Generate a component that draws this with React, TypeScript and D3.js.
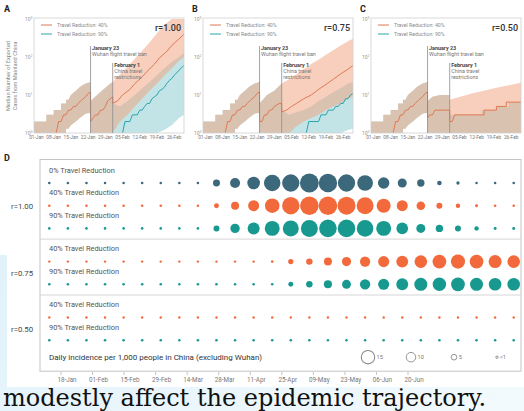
import React, { useEffect, useRef } from 'react';
import * as d3 from 'd3';

// panels A-C, x = days since 01-Jan, y = median exported cases (log)
const xTickLabels = ['01-Jan', '08-Jan', '15-Jan', '22-Jan', '29-Jan', '05-Feb', '12-Feb', '19-Feb', '26-Feb'];
const yTickPowers = [0, 1, 2, 3];
const rLabels = ['r=1.00', 'r=0.75', 'r=0.50'];

const preMedian = [[8, 1], [9, 2], [10, 2], [11, 3], [12, 3], [13, 4], [14, 4], [15, 5], [16, 5], [17, 6], [18, 7], [19, 8], [20, 9], [21, 11], [22, 12]];
// [day, low, high]
const preBand = [[-1, 1, 2], [4, 1, 2], [4, 1, 3], [7, 1, 3], [7, 1, 4], [10, 1, 4], [10, 1, 6], [12, 1, 6], [12, 1.3, 7.5], [13, 1.3, 7.5], [14, 1.6, 10], [16, 2, 13], [18, 2.6, 17], [20, 3.2, 20], [22, 3.4, 22]];

const orangeMedA = [...preMedian, [22, 2], [23, 2.5], [24, 3], [25, 3], [26, 4], [27, 4], [28, 5], [29, 7], [31, 9], [31, 6], [33, 7], [35, 10], [38, 14], [40, 20], [43, 30], [45, 42], [48, 65], [50, 95], [53, 140], [55, 200], [58, 300], [60, 400]];
const orangeBandA = [...preBand, [22, 1, 7], [26, 1, 12], [30, 1, 20], [31, 1, 22], [34, 2, 35], [37, 3, 55], [40, 5, 90], [43, 8, 145], [46, 13, 240], [49, 20, 420], [52, 32, 700], [55, 50, 1000], [58, 80, 1000], [60, 100, 1000]];
const tealMedA = [[35, 1], [36, 2], [38, 2], [39, 3], [41, 3], [42, 4], [43, 4], [44, 5], [45, 6], [46, 6], [47, 8], [48, 9], [49, 10], [50, 13], [51, 14], [52, 16], [53, 20], [54, 24], [55, 27], [56, 33], [57, 38], [58, 45], [59, 52], [60, 60]];
const tealBandA = [...preBand, [22, 1, 7], [26, 1, 12], [30, 1, 20], [31, 1, 22], [31, 1, 6], [34, 1, 5], [37, 1, 7], [40, 1, 10], [43, 1, 15], [46, 1, 22], [49, 1, 33], [52, 1.2, 50], [55, 1.6, 75], [58, 2.5, 100], [60, 3, 130]];

const orangeMedB = [...preMedian, [22, 2], [23, 2], [24, 3], [25, 3], [26, 4], [27, 4], [28, 5], [30, 6], [31, 6], [31, 3.6], [33, 4], [35, 5], [37, 6], [40, 8], [43, 10], [46, 14], [49, 19], [52, 26], [55, 36], [58, 48], [60, 60]];
const orangeBandB = [...preBand, [22, 1, 6], [25, 1, 10], [28, 1, 13], [31, 1, 20], [34, 1, 26], [37, 1.5, 35], [40, 2, 48], [43, 2.5, 65], [46, 3, 85], [49, 4, 115], [52, 5, 150], [55, 6, 200], [58, 8, 260], [60, 9, 300]];
const tealMedB = [[41, 1], [42, 2], [46, 2], [47, 3], [49, 3], [50, 4], [52, 4], [53, 5], [54, 5], [55, 6], [56, 6], [57, 8], [58, 8], [59, 10], [60, 11]];
const tealBandB = [...preBand, [22, 1, 6], [25, 1, 10], [28, 1, 13], [31, 1, 20], [31, 1, 4], [34, 1, 3], [37, 1, 3.5], [40, 1, 4], [43, 1, 5], [46, 1, 7], [49, 1, 9], [52, 1, 12], [55, 1, 15], [58, 1.2, 20], [60, 1.3, 22]];

const orangeMedC = [...preMedian, [22, 2.5], [23, 3], [24, 3], [25, 4], [31, 4], [31, 2], [32, 2], [33, 3], [45, 3], [45, 4], [50, 4], [50, 5], [54, 5], [54, 6.5], [60, 6.5]];
const orangeBandC = [...preBand, [22, 1, 7], [24, 1, 9], [27, 1, 10], [31, 1, 10], [31, 1, 7.5], [40, 1, 11], [50, 1, 15.5], [60, 1, 21]];
const tealMedC: number[][] = [];
const tealBandC = [...preBand, [22, 1, 7], [24, 1, 9], [27, 1, 10], [31, 1, 10], [31, 1, 3], [44, 1, 3], [44, 1, 4], [50, 1, 4], [50, 1, 5], [55, 1, 5], [55, 1, 6.5], [60, 1, 6.5]];

// panel D, daily incidence per 1,000 people, one value per column
const dRowLabels = ['0% Travel Reduction', '40% Travel Reduction', '90% Travel Reduction', '40% Travel Reduction', '90% Travel Reduction', '40% Travel Reduction', '90% Travel Reduction'];
const dRowSection = [0, 0, 0, 1, 1, 2, 2];
const dRowColor = ['#3c687b', '#f26a3b', '#17998f', '#f26a3b', '#17998f', '#f26a3b', '#17998f'];
const row0 = [1, 1, 1, 1, 1, 1, 1, 1, 1, 6.7, 10.6, 14, 19, 20, 22, 21.5, 20, 18, 12.5, 9.3, 7.2, 3.6, 2, 1, 1, 1];
const row40 = [1, 1, 1, 1, 1, 1, 1, 1, 1, 4.1, 8, 11.9, 16.5, 20.2, 21.7, 21.7, 20.9, 19.6, 15.8, 11.9, 8.8, 5.4, 3.4, 1.5, 1, 1];
const row90 = [1, 1, 1, 1, 1, 1, 1, 1, 1, 5.4, 9.8, 13.2, 17, 18.3, 19.6, 20.4, 20.4, 19.1, 17, 12.7, 9.3, 7.2, 5.4, 3.4, 1.5, 1.5];
const row40r75 = [0.8, 0.8, 0.8, 0.8, 0.8, 0.8, 0.8, 0.8, 0.8, 0.8, 0.8, 0.8, 1, 4.5, 6, 8, 9.5, 11, 12, 13, 14, 15.5, 16, 15.5, 14.5, 14];
const row90r75 = [1, 1, 1, 1, 1, 1, 1, 1, 1, 1, 1, 1, 1, 4, 6, 8.2, 9.2, 11, 12, 13, 14.5, 15, 15.5, 14.5, 14, 14];
const row40r50 = [0.8, 0.8, 0.8, 0.8, 0.8, 0.8, 0.8, 0.8, 0.8, 0.8, 0.8, 0.8, 0.8, 0.8, 0.8, 0.8, 0.8, 0.8, 0.8, 0.8, 0.8, 0.8, 0.8, 0.8, 0.8, 0.8];
const row90r50 = [1, 1, 1, 1, 1, 1, 1, 1, 1, 1, 1, 1, 1, 1, 1, 1, 1, 1, 1, 1, 1, 1, 1, 1, 1, 1];
const sizeLegend = [15, 10, 5, 0.8];
const sizeLegendText = ['15', '10', '5', '<1'];
const dAxisLabels = ['18-Jan', '01-Feb', '15-Feb', '29-Feb', '14-Mar', '28-Mar', '11-Apr', '25-Apr', '09-May', '23-May', '06-Jun', '20-Jun'];

const App = () => {
  const svgRef = useRef<SVGSVGElement>(null);

  useEffect(() => {
    const svg = d3.select(svgRef.current);
    svg.selectAll('*').remove();

    const W = 524;
    const H = 411;
    const font = 'Roboto, "Open Sans", sans-serif';
    const orange = '#e07955';
    const teal = '#2ba3ac';

    // page background (light blue under the figure image)
    const defs = svg.append('defs');
    const bg = defs.append('linearGradient').attr('id', 'bg').attr('x1', 0).attr('y1', 0).attr('x2', 1).attr('y2', 1);
    bg.append('stop').attr('offset', '0%').attr('stop-color', '#d9eef9');
    bg.append('stop').attr('offset', '100%').attr('stop-color', '#f3fafd');
    svg.append('rect').attr('width', W).attr('height', H).attr('fill', 'url(#bg)');
    svg.append('rect').attr('x', 0).attr('y', 0).attr('width', W).attr('height', 255).attr('fill', '#fff');
    svg.append('rect').attr('x', 7).attr('y', 0).attr('width', W - 7).attr('height', 387).attr('fill', '#fff');

    // ---------- panels A, B, C ----------
    const panels = [
      { ob: orangeBandA, tb: tealBandA, om: orangeMedA, tm: tealMedA },
      { ob: orangeBandB, tb: tealBandB, om: orangeMedB, tm: tealMedB },
      { ob: orangeBandC, tb: tealBandC, om: orangeMedC, tm: tealMedC },
    ];
    const panelLeft = [34, 203, 371];
    const panelLetters = ['A', 'B', 'C'];
    const pw = 150;
    const top = 18;
    const bottom = 133;

    const y = d3.scaleLog().domain([1, 1000]).range([bottom, 19]).clamp(true);

    panels.forEach((p, k) => {
      const left = panelLeft[k];
      const x = d3.scaleLinear().domain([-1, 60]).range([left, left + pw]);
      const g = svg.append('g');

      defs.append('clipPath').attr('id', `clip${k}`)
        .append('rect').attr('x', left).attr('y', top).attr('width', pw).attr('height', bottom - top);

      const area = d3.area<number[]>()
        .x((d) => x(d[0]))
        .y0((d) => y(d[1]))
        .y1((d) => y(d[2]));
      const line = d3.line<number[]>()
        .x((d) => x(d[0]))
        .y((d) => y(d[1]));

      const plot = g.append('g').attr('clip-path', `url(#clip${k})`);
      plot.append('path').datum(p.tb).attr('fill', '#c3e4e6').attr('d', area);
      plot.append('path').datum(p.ob).attr('fill', '#f0a07a').attr('fill-opacity', 0.5).attr('d', area);
      plot.append('path').datum(p.om).attr('fill', 'none').attr('stroke', orange).attr('stroke-width', 1).attr('d', line);
      if (p.tm.length) {
        plot.append('path').datum(p.tm).attr('fill', 'none').attr('stroke', teal).attr('stroke-width', 1).attr('d', line);
      }

      // frame
      g.append('rect').attr('x', left).attr('y', top).attr('width', pw).attr('height', bottom - top)
        .attr('fill', 'none').attr('stroke', '#cfcfcf').attr('stroke-width', 0.8);

      // annotations
      const ann = [
        { day: 22, y0: 46, lines: ['January 23', 'Wuhan flight travel ban'] },
        { day: 31, y0: 63, lines: ['February 1', 'China travel', 'restrictions'] },
      ];
      ann.forEach((a) => {
        g.append('line').attr('x1', x(a.day)).attr('x2', x(a.day)).attr('y1', a.y0).attr('y2', bottom)
          .attr('stroke', '#8c8c8c').attr('stroke-width', 0.8);
        a.lines.forEach((t, i) => {
          g.append('text').attr('x', x(a.day) + 1.5).attr('y', a.y0 + 4 + i * 6)
            .attr('font-family', font).attr('font-size', 5.4)
            .attr('font-weight', i === 0 ? 700 : 400)
            .attr('fill', i === 0 ? '#444' : '#777').text(t);
        });
      });

      // legend
      [['Travel Reduction: 40%', orange], ['Travel Reduction: 90%', teal]].forEach(([t, c], i) => {
        g.append('line').attr('x1', left + 7).attr('x2', left + 18).attr('y1', 25 + i * 9).attr('y2', 25 + i * 9)
          .attr('stroke', c).attr('stroke-width', 1);
        g.append('text').attr('x', left + 23).attr('y', 27 + i * 9).attr('font-family', font)
          .attr('font-size', 5.2).attr('fill', '#8a8a8a').text(t);
      });

      g.append('text').attr('x', left + pw - 3).attr('y', 31).attr('text-anchor', 'end')
        .attr('font-family', font).attr('font-size', 9).attr('font-weight', 500).attr('fill', '#333').text(rLabels[k]);

      // y ticks
      yTickPowers.forEach((pow) => {
        const t = g.append('text').attr('x', left - 1.5).attr('y', y(Math.pow(10, pow)) + 1.8)
          .attr('text-anchor', 'end').attr('font-family', font).attr('font-size', 5).attr('fill', '#999');
        t.append('tspan').text('10');
        t.append('tspan').attr('dy', -2).attr('font-size', 3.5).text(String(pow));
      });

      // x ticks
      xTickLabels.forEach((lab, i) => {
        g.append('text').attr('x', x(i * 7)).attr('y', 139).attr('text-anchor', 'middle')
          .attr('font-family', font).attr('font-size', 4.8).attr('fill', '#777').text(lab);
      });

      svg.append('text').attr('x', k === 0 ? 4 : left - 11).attr('y', 12).attr('font-family', font)
        .attr('font-size', 9).attr('font-weight', 700).attr('fill', '#222').text(panelLetters[k]);
    });

    // y axis title of panel A
    ['Median Number of Exported', 'Cases from Mainland China'].forEach((t, i) => {
      svg.append('text').attr('transform', `translate(${10 + i * 6.5},76) rotate(-90)`)
        .attr('text-anchor', 'middle').attr('font-family', font).attr('font-size', 5.6)
        .attr('fill', '#888').text(t);
    });

    // ---------- panel D ----------
    const rows = [row0, row40, row90, row40r75, row90r75, row40r50, row90r50];
    const boxL = 40;
    const boxR = 521;
    const rowY = (i: number) => 183 + i * 22.7 + dRowSection[i] * 10.5;

    const x = d3.scalePoint<number>().domain(d3.range(26)).range([49.3, 513.7]);
    const r = d3.scaleLinear().domain([0, 15]).range([0.9, 6.7]);

    svg.append('text').attr('x', 4).attr('y', 161).attr('font-family', font)
      .attr('font-size', 9).attr('font-weight', 700).attr('fill', '#222').text('D');

    svg.append('rect').attr('x', boxL).attr('y', rowY(0) - 23.5).attr('width', boxR - boxL)
      .attr('height', rowY(6) + 31 - (rowY(0) - 23.5))
      .attr('fill', '#fff').attr('stroke', '#c4c4c4').attr('stroke-width', 1);

    [3, 5].forEach((i) => {
      svg.append('line').attr('x1', boxL).attr('x2', boxR).attr('y1', rowY(i) - 22.5).attr('y2', rowY(i) - 22.5)
        .attr('stroke', '#d6d6d6').attr('stroke-width', 1);
    });

    rows.forEach((vals, i) => {
      svg.append('text').attr('x', 49).attr('y', rowY(i) - 10.5).attr('font-family', font)
        .attr('font-size', 7.4).attr('fill', '#555').text(dRowLabels[i]);
      svg.append('g').selectAll('circle').data(vals).join('circle')
        .attr('cx', (d, j) => x(j) as number)
        .attr('cy', rowY(i))
        .attr('r', (d) => r(d))
        .attr('fill', dRowColor[i]);
    });

    [[0, 2], [3, 4], [5, 6]].forEach(([a, b], s) => {
      svg.append('text').attr('x', 11).attr('y', (rowY(a) + rowY(b)) / 2 + 2.8)
        .attr('font-family', font).attr('font-size', 7.8).attr('fill', '#444')
        .text(['r=1.00', 'r=0.75', 'r=0.50'][s]);
    });

    const legY = rowY(6) + 17;
    svg.append('text').attr('x', 49).attr('y', legY + 2.8).attr('font-family', font)
      .attr('font-size', 8).attr('fill', '#333')
      .text('Daily incidence per 1,000 people in China (excluding Wuhan)');

    const legX = d3.scalePoint<number>().domain(d3.range(sizeLegend.length)).range([368, 497]);
    sizeLegend.forEach((v, i) => {
      const cx = legX(i) as number;
      svg.append('circle').attr('cx', cx).attr('cy', legY).attr('r', r(v))
        .attr('fill', 'none').attr('stroke', '#8a8a8a').attr('stroke-width', i === 0 ? 1.1 : 0.9);
      svg.append('text').attr('x', cx + r(v) + 1.8).attr('y', legY + 2).attr('font-family', font)
        .attr('font-size', 5.6).attr('fill', '#777').text(sizeLegendText[i]);
    });

    const parse = d3.timeParse('%d-%b-%Y');
    const dates = dAxisLabels.map((d) => parse(`${d}-2020`) as Date);
    const xt = d3.scaleTime().domain([dates[0], dates[dates.length - 1]]).range([67, 414]);
    dates.forEach((d, i) => {
      svg.append('line').attr('x1', xt(d) - 6).attr('x2', xt(d) - 6).attr('y1', 372).attr('y2', 375)
        .attr('stroke', '#aaa').attr('stroke-width', 0.7);
      svg.append('text').attr('x', xt(d)).attr('y', 382).attr('text-anchor', 'middle')
        .attr('font-family', font).attr('font-size', 6.3).attr('fill', '#777').text(dAxisLabels[i]);
    });

    // caption text of the page under the figure
    svg.append('text').attr('x', 3).attr('y', 406).attr('font-family', '"DejaVu Serif", serif')
      .attr('font-size', 24).attr('fill', '#111').text('modestly affect the epidemic trajectory.');
  }, []);

  return <svg ref={svgRef} width={524} height={411} style={{ position: 'absolute', left: 0, top: 0 }} />;
};

export default App;
